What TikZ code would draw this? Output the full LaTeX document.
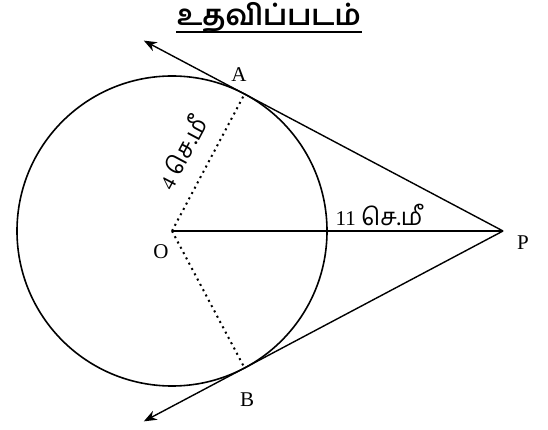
\documentclass[tikz,border=0pt]{standalone}
\usepackage{fontspec}
\setmainfont{Liberation Serif}
\newfontfamily\tamil[Script=Tamil,Scale=1.15]{Hind Madurai}
\usetikzlibrary{arrows.meta,calc}
\begin{document}
\begin{tikzpicture}[x=1pt,y=1pt,line width=1.4pt,
  lab/.style={font=\fontsize{21}{24}\selectfont,inner sep=0pt},
  len/.style={font=\fontsize{21}{24}\selectfont,inner sep=0pt},
  radiusline/.style={line width=2pt,dash pattern=on 2pt off 4pt},
  ray/.style={-{Stealth[length=13pt,width=10pt]}}]
\useasboundingbox (0,0) rectangle (548,430);
% circle, centre and outer point
\coordinate (O) at (172,199);
\coordinate (P) at (503,199);
\draw[line width=1.6pt] (O) circle[radius=155];
% points of contact
\coordinate (A) at ($(O)+(62.08:155)$);
\coordinate (B) at ($(O)+(-62.08:155)$);
\coordinate (Aend) at ($(P)!1.39!(A)$);
\coordinate (Bend) at ($(P)!1.39!(B)$);
\draw[ray] (P) -- (Aend);
\draw[ray] (P) -- (Bend);
\draw (O) -- (P);
\draw[radiusline] (O) -- (A);
\draw[radiusline] (O) -- (B);
% labels
\node[lab] (labA) at (239,355) {A};
\node[lab] (labB) at (247,30) {B};
\node[lab] (labO) at (161,178) {O};
\node[lab] (labP) at (523,187) {P};
\node[len,anchor=base west] (lenOP) at (335,204) {11 {\tamil செ.மீ}};
\node[len,rotate=62] (lenOA) at (181,278) {4 {\tamil செ.மீ}};
\node[font=\tamil\bfseries\fontsize{25}{28}\selectfont,inner sep=0pt,anchor=base] (title) at (269,404) {உதவிப்படம்};
\draw[line width=2.4pt] ([yshift=-6pt]title.base west) -- ([yshift=-6pt]title.base east);
\end{tikzpicture}
\end{document}
